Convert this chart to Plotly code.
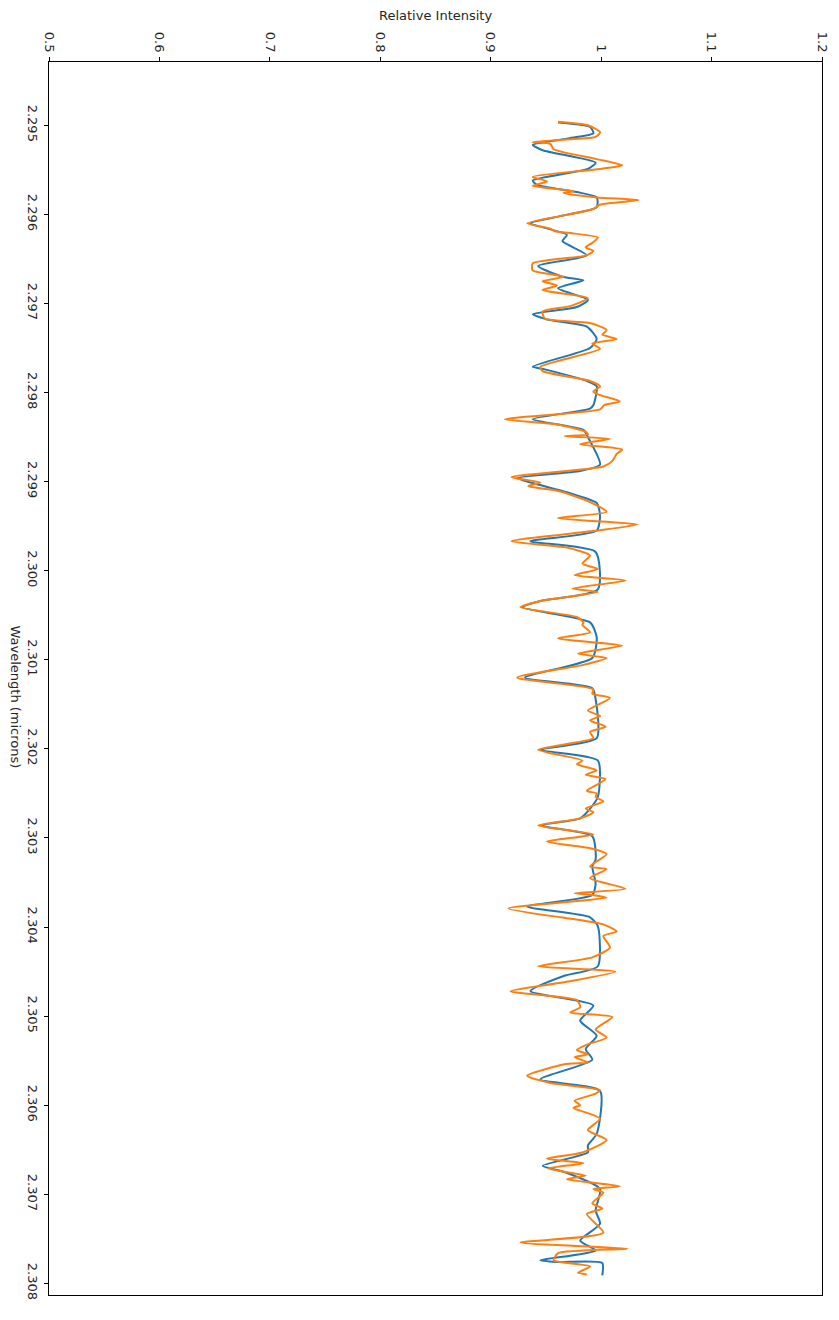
import plotly.graph_objects as go

# Blue series (model)
blue_wl = [2.29497, 2.29502, 2.29509, 2.29515, 2.29522, 2.29528, 2.29542, 2.29549, 2.29562, 2.29567,
           2.29575, 2.29581, 2.29592, 2.29602, 2.29610, 2.29623, 2.29630, 2.29646, 2.29658, 2.29670,
           2.29674, 2.29683, 2.29696, 2.29704, 2.29712, 2.29718, 2.29726, 2.29740, 2.29750, 2.29771,
           2.29774, 2.29787, 2.29793, 2.29814, 2.29818, 2.29830, 2.29842, 2.29850, 2.29881, 2.29888,
           2.29896, 2.29903, 2.29912, 2.29924, 2.29938, 2.29955, 2.29967, 2.29979, 2.30021, 2.30034,
           2.30041, 2.30058, 2.30075, 2.30098, 2.30120, 2.30132, 2.30144, 2.30188, 2.30201, 2.30213,
           2.30254, 2.30267, 2.30278, 2.30286, 2.30298, 2.30324, 2.30332, 2.30351, 2.30364, 2.30377,
           2.30389, 2.30399, 2.30444, 2.30455, 2.30472, 2.30488, 2.30505, 2.30522, 2.30537, 2.30549,
           2.30571, 2.30584, 2.30632, 2.30645, 2.30653, 2.30668, 2.30675, 2.30694, 2.30718, 2.30733,
           2.30752, 2.30763, 2.30774, 2.30776, 2.30777, 2.30791]
blue_int = [0.961, 0.990, 0.993, 0.969, 0.938, 0.947, 0.995, 0.988, 0.938, 0.942,
            0.978, 0.996, 0.996, 0.963, 0.936, 0.969, 0.965, 0.987, 0.943, 0.965,
            0.984, 0.961, 0.988, 0.978, 0.938, 0.951, 0.987, 0.996, 0.990, 0.938,
            0.949, 0.987, 0.996, 0.993, 0.990, 0.938, 0.984, 0.988, 0.999, 0.981,
            0.924, 0.942, 0.969, 0.996, 0.999, 0.996, 0.936, 0.995, 0.997, 0.945,
            0.929, 0.990, 0.996, 0.992, 0.931, 0.992, 0.995, 0.996, 0.945, 0.997,
            0.997, 0.990, 0.981, 0.945, 0.992, 0.995, 0.992, 0.995, 0.992, 0.933,
            0.990, 0.997, 0.997, 0.966, 0.936, 0.993, 0.981, 0.996, 0.986, 0.992,
            0.945, 0.999, 0.996, 0.988, 0.988, 0.947, 0.967, 0.999, 0.995, 0.999,
            0.981, 0.995, 0.945, 0.960, 1.001, 1.001]

# Orange series (observed)
orange_wl = [2.29496, 2.29500, 2.29508, 2.29513, 2.29516, 2.29519, 2.29521, 2.29527, 2.29538, 2.29545,
             2.29549, 2.29558, 2.29563, 2.29568, 2.29574, 2.29576, 2.29581, 2.29584, 2.29589, 2.29594,
             2.29602, 2.29610, 2.29616, 2.29619, 2.29621, 2.29626, 2.29632, 2.29637, 2.29641, 2.29646,
             2.29655, 2.29663, 2.29670, 2.29675, 2.29680, 2.29685, 2.29694, 2.29703, 2.29709, 2.29717,
             2.29722, 2.29730, 2.29735, 2.29740, 2.29745, 2.29751, 2.29771, 2.29776, 2.29787, 2.29793,
             2.29799, 2.29802, 2.29810, 2.29814, 2.29819, 2.29830, 2.29836, 2.29844, 2.29847, 2.29849,
             2.29852, 2.29858, 2.29864, 2.29869, 2.29877, 2.29883, 2.29895, 2.29901, 2.29905, 2.29911,
             2.29923, 2.29934, 2.29941, 2.29948, 2.29955, 2.29967, 2.29974, 2.29983, 2.29992, 2.29998,
             2.30005, 2.30011, 2.30020, 2.30024, 2.30034, 2.30041, 2.30052, 2.30058, 2.30061, 2.30069,
             2.30076, 2.30084, 2.30093, 2.30098, 2.30106, 2.30120, 2.30133, 2.30138, 2.30143, 2.30157,
             2.30163, 2.30168, 2.30175, 2.30181, 2.30188, 2.30201, 2.30213, 2.30217, 2.30224, 2.30229,
             2.30234, 2.30247, 2.30250, 2.30254, 2.30259, 2.30267, 2.30271, 2.30278, 2.30286, 2.30296,
             2.30304, 2.30312, 2.30318, 2.30332, 2.30335, 2.30345, 2.30357, 2.30362, 2.30364, 2.30367,
             2.30379, 2.30389, 2.30391, 2.30397, 2.30405, 2.30410, 2.30423, 2.30434, 2.30444, 2.30450,
             2.30462, 2.30472, 2.30482, 2.30490, 2.30496, 2.30501, 2.30515, 2.30524, 2.30532, 2.30538,
             2.30543, 2.30546, 2.30552, 2.30554, 2.30567, 2.30575, 2.30583, 2.30587, 2.30595, 2.30600,
             2.30603, 2.30615, 2.30628, 2.30639, 2.30653, 2.30660, 2.30665, 2.30671, 2.30679, 2.30683,
             2.30691, 2.30694, 2.30698, 2.30710, 2.30716, 2.30722, 2.30743, 2.30754, 2.30761, 2.30766,
             2.30774, 2.30781, 2.30788, 2.30790]
orange_int = [0.961, 0.988, 0.999, 0.995, 0.969, 0.938, 0.954, 0.957, 0.996, 1.019,
              0.999, 0.938, 0.951, 0.938, 0.975, 0.966, 0.996, 1.034, 0.999, 0.993,
              0.963, 0.933, 0.954, 0.958, 0.972, 0.997, 0.992, 0.986, 0.993, 0.987,
              0.938, 0.938, 0.966, 0.947, 0.960, 0.947, 0.988, 0.972, 0.947, 0.949,
              0.990, 1.005, 1.001, 1.014, 0.992, 0.999, 0.945, 0.947, 0.990, 0.999,
              0.993, 0.997, 1.017, 1.003, 0.999, 0.913, 0.960, 0.986, 0.988, 0.967,
              1.008, 0.981, 1.019, 1.014, 1.010, 1.002, 0.919, 0.945, 0.934, 0.963,
              0.990, 1.005, 0.961, 1.033, 0.996, 0.919, 0.969, 0.990, 0.983, 0.997,
              0.976, 1.022, 0.974, 0.997, 0.945, 0.927, 0.978, 0.984, 0.983, 0.990,
              0.961, 1.019, 0.979, 1.005, 0.983, 0.924, 0.993, 0.992, 1.008, 0.988,
              0.999, 0.990, 1.004, 0.990, 0.993, 0.943, 0.983, 0.978, 0.996, 0.986,
              1.004, 0.987, 0.996, 0.995, 1.002, 0.986, 0.993, 0.981, 0.943, 0.993,
              0.951, 0.992, 1.005, 0.990, 1.005, 0.990, 1.022, 0.976, 0.992, 1.005,
              0.916, 0.963, 0.975, 1.002, 1.014, 1.002, 1.008, 0.992, 0.943, 1.013,
              0.966, 0.918, 0.978, 0.981, 0.972, 1.010, 0.995, 1.005, 0.987, 0.978,
              0.988, 0.976, 0.988, 0.967, 0.933, 0.954, 0.999, 0.995, 0.976, 0.981,
              0.975, 0.999, 0.988, 1.005, 0.983, 0.951, 0.984, 0.952, 0.986, 0.969,
              1.017, 0.993, 1.002, 0.992, 1.001, 0.987, 1.002, 0.927, 1.024, 0.961,
              0.957, 0.990, 0.979, 0.987]

x_ticks = [0.5, 0.6, 0.7, 0.8, 0.9, 1.0, 1.1, 1.2]
x_tick_text = ["0.5", "0.6", "0.7", "0.8", "0.9", "1", "1.1", "1.2"]
y_ticks = [2.295, 2.296, 2.297, 2.298, 2.299, 2.300, 2.301, 2.302, 2.303, 2.304, 2.305, 2.306, 2.307, 2.308]
y_tick_text = ["2.295", "2.296", "2.297", "2.298", "2.299", "2.300", "2.301", "2.302",
               "2.303", "2.304", "2.305", "2.306", "2.307", "2.308"]

fig = go.Figure()
fig.add_trace(go.Scatter(x=blue_int, y=blue_wl, mode="lines",
                         line=dict(color="#1f77b4", width=2, shape="spline", smoothing=0.6),
                         showlegend=False, hoverinfo="skip"))
fig.add_trace(go.Scatter(x=orange_int, y=orange_wl, mode="lines",
                         line=dict(color="#ff7f0e", width=2, shape="spline", smoothing=0.6),
                         showlegend=False, hoverinfo="skip"))

font = dict(family="DejaVu Sans", size=13, color="#262626")
fig.update_layout(
    width=839, height=1320,
    margin=dict(l=41, r=25, t=54, b=33),
    paper_bgcolor="white", plot_bgcolor="white",
    font=font,
    xaxis=dict(range=[0.5, 1.2], side="top", tickvals=x_ticks, ticktext=x_tick_text,
               tickangle=90, ticks="outside", ticklen=4, tickcolor="black",
               showline=True, linecolor="black", linewidth=1, mirror=True,
               showgrid=False, zeroline=False, tickfont=font, automargin=False),
    yaxis=dict(range=[2.30813, 2.29429], tickvals=y_ticks, ticktext=y_tick_text,
               tickangle=90, ticks="outside", ticklen=4, tickcolor="black",
               showline=True, linecolor="black", linewidth=1, mirror=True,
               showgrid=False, zeroline=False, tickfont=font, automargin=False),
    annotations=[
        dict(text="Relative Intensity", xref="paper", yref="paper", x=0.5, y=1,
             yshift=47, showarrow=False, font=font, xanchor="center", yanchor="middle"),
        dict(text="Wavelength (microns)", xref="paper", yref="paper", x=0, y=0.5,
             xshift=-34, yshift=-18, showarrow=False, font=font, textangle=90,
             xanchor="center", yanchor="middle"),
    ],
)

fig.write_html("out.html")
